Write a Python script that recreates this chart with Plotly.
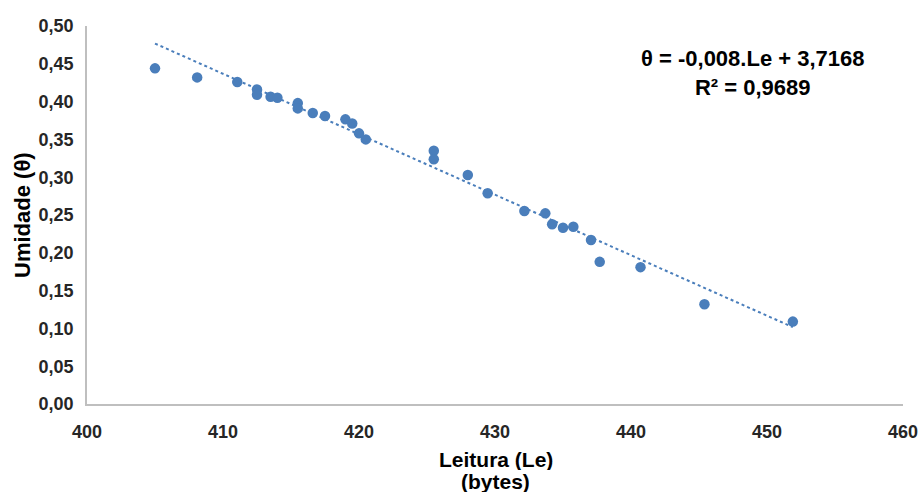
import plotly.graph_objects as go

# Sensor readings (bytes) and measured soil moisture
leitura = [405.0, 408.1, 411.05, 412.5, 412.5, 413.5, 414.0, 415.5, 415.5, 416.6,
           417.5, 419.0, 419.5, 420.0, 420.5, 425.5, 425.5, 428.0, 429.46, 432.16,
           433.7, 434.2, 435.0, 435.76, 437.06, 437.7, 440.7, 445.4, 451.9]
umidade = [0.444, 0.432, 0.426, 0.416, 0.409, 0.4065, 0.405, 0.398, 0.391, 0.385,
           0.381, 0.3765, 0.371, 0.358, 0.350, 0.335, 0.3237, 0.303, 0.2787, 0.2553,
           0.2522, 0.2377, 0.2332, 0.2345, 0.217, 0.188, 0.181, 0.132, 0.109]

# Linear fit reported for the calibration
slope = -0.008
intercept = 3.7168
r2 = 0.9689
fit_x = [min(leitura), max(leitura)]
fit_y = [slope * v + intercept for v in fit_x]

blue = "#4a7ebb"
font_family = "Liberation Sans, Arial, sans-serif"

fig = go.Figure()
fig.add_trace(go.Scatter(
    x=fit_x, y=fit_y, mode="lines",
    line=dict(color=blue, width=2, dash="dot"),
    showlegend=False, hoverinfo="skip",
))
fig.add_trace(go.Scatter(
    x=leitura, y=umidade, mode="markers",
    marker=dict(color=blue, size=10.5),
    showlegend=False,
))

axis_common = dict(
    showgrid=False, zeroline=False, showline=True, automargin=False,
    linecolor="#bfbfbf", linewidth=1.5, ticks="",
    tickfont=dict(family=font_family, size=18, color="#262626", weight="bold"),
)
fig.update_xaxes(range=[400, 460], tick0=400, dtick=10, ticklabelstandoff=11, **axis_common)
fig.update_yaxes(range=[0, 0.5], tick0=0, dtick=0.05, tickformat=".2f",
                 ticklabelstandoff=8, **axis_common)

eq_text = ("<b>θ = -0,008.Le + 3,7168</b><br><b>R² = 0,9689</b>")
fig.add_annotation(
    x=(753 - 87) / 816, y=(404 - 73) / 378, xref="paper", yref="paper",
    text=eq_text, showarrow=False, xanchor="center", yanchor="middle",
    font=dict(family=font_family, size=22, color="#000000"),
)
fig.add_annotation(
    x=-0.0797, y=0.5, xref="paper", yref="paper",
    text="<b>Umidade (θ)</b>", textangle=-90, showarrow=False,
    xanchor="center", yanchor="middle",
    font=dict(family=font_family, size=22, color="#000000"),
)
# x-axis title on two tightly spaced lines
title_font = dict(family=font_family, size=21, color="#000000")
fig.add_annotation(
    x=0.501, y=(404 - 459) / 378, xref="paper", yref="paper",
    text="<b>Leitura (Le)</b>", showarrow=False, height=22, borderpad=0,
    xanchor="center", yanchor="middle", font=title_font,
)
fig.add_annotation(
    x=0.501, y=(404 - 481) / 378, xref="paper", yref="paper",
    text="<b>(bytes)</b>", showarrow=False, height=22, borderpad=0,
    xanchor="center", yanchor="middle", font=title_font,
)

fig.update_layout(
    width=920, height=495,
    margin=dict(l=87, r=17, t=26, b=91),
    paper_bgcolor="white", plot_bgcolor="white",
    separators=",.",
    font=dict(family=font_family),
)

fig.write_html("out.html")
